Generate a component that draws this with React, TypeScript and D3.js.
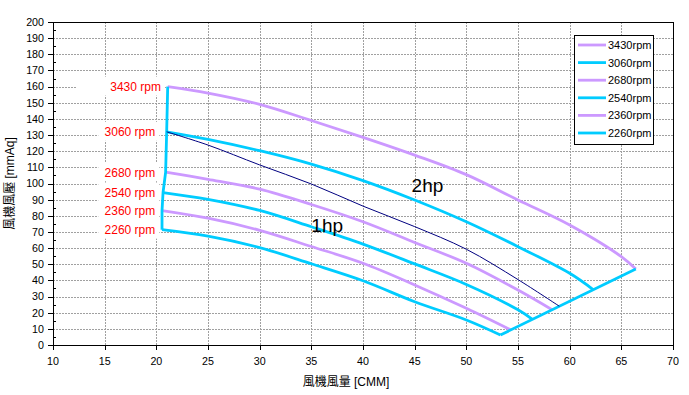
import React from "react";
import * as d3 from "d3";

const rpmLabels = ["3430rpm", "3060rpm", "2680rpm", "2540rpm", "2360rpm", "2260rpm"];

const flow3430 = [21.1, 25, 30, 35, 40, 45, 50, 55, 60, 65, 66.4];
const pres3430 = [160, 156, 149, 139, 128.6, 117.6, 105.5, 89.8, 74.3, 54.7, 47];
const flow3060 = [21, 25, 30, 35, 40, 45, 50, 55, 60, 62.3];
const pres3060 = [132, 127.3, 120.3, 112, 101.8, 89.8, 76.3, 60.9, 44.4, 34.2];
const flow2680 = [20.9, 25, 30, 35, 40, 45, 50, 55, 58.3];
const pres2680 = [107, 102.6, 96.5, 87, 76.3, 63.5, 50.6, 34, 21.8];
const flow2540 = [20.65, 25, 30, 35, 40, 45, 50, 55, 56.4];
const pres2540 = [94.4, 90.2, 83.3, 73.2, 62.5, 50.2, 37.5, 21.8, 15.9];
const flow2360 = [20.55, 25, 30, 35, 40, 45, 50, 54.3];
const pres2360 = [83.2, 78.5, 71, 61, 50.6, 37.2, 22.7, 9.3];
const flow2260 = [20.55, 25, 30, 35, 40, 45, 50, 53.3];
const pres2260 = [71.4, 67.4, 60.3, 50.3, 39.8, 26.8, 15.5, 6.2];

// 1hp / 2hp separating line
const flowHp = [21, 25, 30, 35, 40, 45, 50, 55, 59];
const presHp = [132, 123.8, 111.5, 99.7, 86, 73.3, 59.3, 40.5, 24];

const hpLabels = ["2hp", "1hp"];
const hpFlow = [44.7, 35.0];
const hpPres = [94.9, 70.2];

const xTicks = [10, 15, 20, 25, 30, 35, 40, 45, 50, 55, 60, 65, 70];
const yTicks = [0, 10, 20, 30, 40, 50, 60, 70, 80, 90, 100, 110, 120, 130, 140, 150, 160, 170, 180, 190, 200];

const xTitle = "風機風量 [CMM]";
const yTitle = "風機風壓 [mmAq]";

const flows = [flow3430, flow3060, flow2680, flow2540, flow2360, flow2260];
const press = [pres3430, pres3060, pres2680, pres2540, pres2360, pres2260];

const PURPLE = "#CC99FF";
const CYAN = "#00CCFF";
const FONT = "'Liberation Sans', Arial, 'Noto Sans CJK TC', sans-serif";

export default function App() {
  const W = 689, H = 395;
  const x = d3.scaleLinear().domain([10, 70]).range([53, 673]);
  const y = d3.scaleLinear().domain([0, 200]).range([345, 22]);

  const series = rpmLabels.map((rpm, i) => ({
    rpm,
    pts: flows[i].map((f, j) => [f, press[i][j]] as [number, number]),
    color: i % 2 === 0 ? PURPLE : CYAN,
  }));

  const line = d3
    .line<[number, number]>()
    .x((d) => x(d[0]))
    .y((d) => y(d[1]))
    .curve(d3.curveCatmullRom.alpha(0.5));
  const straight = d3
    .line<[number, number]>()
    .x((d) => x(d[0]))
    .y((d) => y(d[1]));

  const leftBoundary = series.map((s) => s.pts[0]);
  const rightBoundary = [series[5].pts[series[5].pts.length - 1], series[0].pts[series[0].pts.length - 1]];
  const hpPts = flowHp.map((f, j) => [f, presHp[j]] as [number, number]);

  const minorY = d3.range(5, 200, 10);

  return (
    <svg width={W} height={H} style={{ position: "absolute", left: 0, top: 0, background: "#fff" }} fontFamily={FONT}>
      <rect x={0} y={0} width={W} height={H} fill="#fff" />
      {/* gridlines */}
      <g stroke="#a0a0a0" strokeWidth={1} strokeDasharray="2 1">
        {yTicks.slice(1, -1).map((t) => (
          <line key={"gy" + t} x1={x(10)} x2={x(70)} y1={Math.round(y(t)) + 0.5} y2={Math.round(y(t)) + 0.5} />
        ))}
        {xTicks.slice(1, -1).map((t) => (
          <line key={"gx" + t} x1={Math.round(x(t)) + 0.5} x2={Math.round(x(t)) + 0.5} y1={y(0)} y2={y(200)} />
        ))}
      </g>
      {/* frame */}
      <rect x={x(10) + 0.5} y={y(200) + 0.5} width={x(70) - x(10)} height={y(0) - y(200)} fill="none" stroke="#000" strokeWidth={1} />
      {/* ticks */}
      <g stroke="#000" strokeWidth={1}>
        {yTicks.map((t) => (
          <line key={"ty" + t} x1={x(10) - 5} x2={x(10)} y1={Math.round(y(t)) + 0.5} y2={Math.round(y(t)) + 0.5} />
        ))}
        {minorY.map((t) => (
          <line key={"my" + t} x1={x(10)} x2={x(10) + 3} y1={Math.round(y(t)) + 0.5} y2={Math.round(y(t)) + 0.5} />
        ))}
        {xTicks.map((t) => (
          <line key={"tx" + t} x1={Math.round(x(t)) + 0.5} x2={Math.round(x(t)) + 0.5} y1={y(0)} y2={y(0) + 5} />
        ))}
      </g>
      <g fontSize={10.7} fill="#000">
        {yTicks.map((t) => (
          <text key={"ly" + t} x={x(10) - 9} y={y(t)} dy="0.36em" textAnchor="end">
            {t}
          </text>
        ))}
        {xTicks.map((t) => (
          <text key={"lx" + t} x={x(t)} y={y(0) + 20} textAnchor="middle">
            {t}
          </text>
        ))}
      </g>
      {/* axis titles */}
      <text x={346} y={386} fontSize={12} textAnchor="middle" fill="#000">
        {xTitle}
      </text>
      <text
        transform={`translate(14,${(y(0) + y(200)) / 2}) rotate(-90)`}
        fontSize={12}
        textAnchor="middle"
        fill="#000"
      >
        {yTitle}
      </text>
      {/* rpm labels with white boxes */}
      {series.map((s, i) => {
        const endX = i === 0 ? x(20.45) : x(19.9);
        const cy = y(s.pts[0][1]);
        const left = i === 0 ? endX - 85 : endX - 57;
        return (
          <g key={"lab" + i}>
            <rect x={left} y={cy - 10} width={endX + 4 - left} height={19} fill="#fff" />
            <text x={endX} y={cy} dy="0.36em" textAnchor="end" fontSize={12} fill="#ff0000">
              {s.rpm.replace("rpm", " rpm")}
            </text>
          </g>
        );
      })}
      {/* curves */}
      <g fill="none" strokeLinejoin="round">
        {series.map((s, i) => (
          <path key={"c" + i} d={line(s.pts) || ""} stroke={s.color} strokeWidth={2.8} />
        ))}
        <path d={straight(leftBoundary) || ""} stroke={CYAN} strokeWidth={2.8} />
        <path d={straight(rightBoundary) || ""} stroke={CYAN} strokeWidth={2.8} />
        <path d={line(hpPts) || ""} stroke="#000080" strokeWidth={1} />
      </g>
      {/* hp labels */}
      {hpLabels.map((h, i) => (
        <text key={h} x={x(hpFlow[i])} y={y(hpPres[i])} fontSize={19} fill="#000">
          {h}
        </text>
      ))}
      {/* legend */}
      <g>
        <rect x={574.5} y={35.5} width={79} height={109} fill="#fff" stroke="#000" strokeWidth={1} />
        {series.map((s, i) => {
          const ly = 45 + i * 17.6;
          return (
            <g key={"lg" + i}>
              <line x1={578} x2={606} y1={ly} y2={ly} stroke={s.color} strokeWidth={2.8} />
              <text x={608} y={ly} dy="0.36em" fontSize={11} fill="#000">
                {s.rpm}
              </text>
            </g>
          );
        })}
      </g>
    </svg>
  );
}
